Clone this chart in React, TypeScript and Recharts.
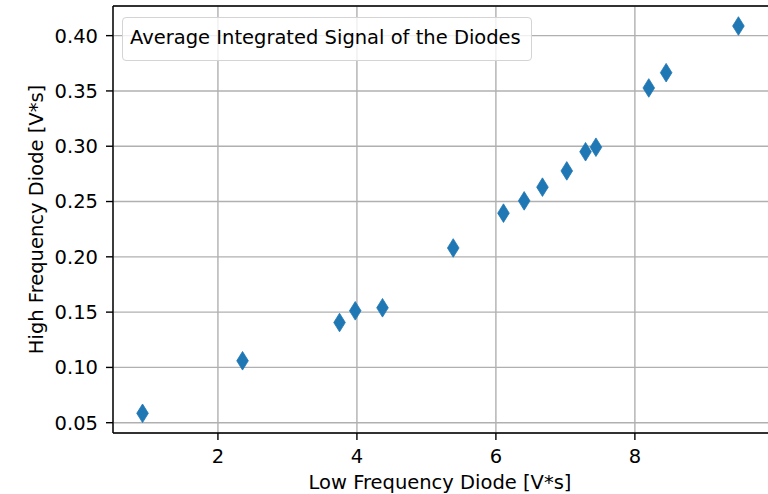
import {
  ScatterChart,
  Scatter,
  XAxis,
  YAxis,
  CartesianGrid,
  Legend,
  ReferenceLine
} from "recharts";

// Values
const lowFreq = [0.915, 2.354, 3.75, 3.976, 4.368, 5.386, 6.109, 6.407, 6.67, 7.02, 7.29, 7.44, 8.2, 8.45, 9.49];
const highFreq = [0.0585, 0.106, 0.1406, 0.1512, 0.1539, 0.208, 0.2395, 0.2506, 0.263, 0.2777, 0.295, 0.2991, 0.3527, 0.3665, 0.4087];
const xTicks = [2, 4, 6, 8];
const yTicks = [0.05, 0.1, 0.15, 0.2, 0.25, 0.3, 0.35, 0.4];
const xDomain = [0.49, 9.93];
const yDomain = [0.0407, 0.4268];
const seriesName = "Average Integrated Signal of the Diodes";

const FONT = "'DejaVu Sans', sans-serif";
const FS = 19.5;
const BLUE = "#1f77b4";

const Diamond = (props: any) => {
  const { cx, cy } = props;
  if (cx == null || cy == null) return null;
  const h = 9.3;
  const w = 5.8;
  return (
    <path
      d={`M${cx},${cy - h} L${cx + w},${cy} L${cx},${cy + h} L${cx - w},${cy} Z`}
      fill={BLUE}
      stroke={BLUE}
      strokeWidth={0.8}
    />
  );
};

const XLabel = (props: any) => {
  const { viewBox } = props;
  const cx = viewBox.x + viewBox.width / 2;
  return (
    <text x={cx - 1} y={489} textAnchor="middle" fontSize={FS} fontFamily={FONT} fill="#000">
      Low Frequency Diode [V*s]
    </text>
  );
};

const YLabel = (props: any) => {
  const { viewBox } = props;
  const cy = viewBox.y + viewBox.height / 2;
  const cx = 43;
  return (
    <text
      x={cx}
      y={cy}
      transform={`rotate(-90 ${cx} ${cy})`}
      textAnchor="middle"
      fontSize={FS}
      fontFamily={FONT}
      fill="#000"
    >
      High Frequency Diode [V*s]
    </text>
  );
};

const LegendBox = () => (
  <div
    style={{
      width: 410,
      height: 44,
      boxSizing: "border-box",
      border: "1.4px solid #d4d4d4",
      borderRadius: 4,
      background: "rgba(255,255,255,0.8)",
      fontFamily: FONT,
      fontSize: FS,
      color: "#000",
      paddingLeft: 7,
      lineHeight: "40px",
      whiteSpace: "nowrap"
    }}
  >
    {seriesName}
  </div>
);

export default function App() {
  const data = lowFreq.map((x, i) => ({ x, y: highFreq[i] }));

  return (
    <div style={{ position: "absolute", left: 0, top: 0, width: 768, height: 494, overflow: "hidden", background: "#fff" }}>
      <ScatterChart width={769} height={494} margin={{ top: 6, right: 0, left: 0, bottom: 0 }}>
        <CartesianGrid stroke="#b0b0b0" strokeWidth={1.4} />
        <XAxis
          type="number"
          dataKey="x"
          domain={xDomain}
          ticks={xTicks}
          allowDataOverflow
          height={61}
          stroke="#000"
          strokeWidth={1.4}
          tickSize={7}
          tickMargin={9}
          tick={{ fontSize: FS, fill: "#000", fontFamily: FONT }}
          label={<XLabel />}
        />
        <YAxis
          type="number"
          dataKey="y"
          domain={yDomain}
          ticks={yTicks}
          allowDataOverflow
          width={113}
          stroke="#000"
          strokeWidth={1.4}
          tickSize={7}
          tickMargin={8}
          tickFormatter={(v: number) => v.toFixed(2)}
          tick={{ fontSize: FS, fill: "#000", fontFamily: FONT }}
          label={<YLabel />}
        />
        <ReferenceLine y={yDomain[1]} stroke="#000" strokeWidth={1.6} />
        <Legend
          layout="horizontal"
          verticalAlign="middle"
          align="center"
          content={<LegendBox />}
          wrapperStyle={{ left: 122, top: 17, width: 410, height: 44 }}
        />
        <Scatter name={seriesName} data={data} shape={<Diamond />} isAnimationActive={false} />
      </ScatterChart>
    </div>
  );
}
